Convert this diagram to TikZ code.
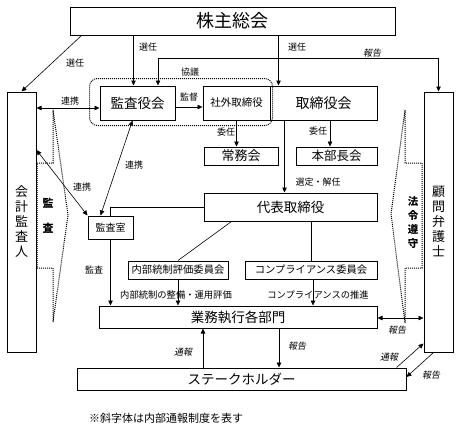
\documentclass[tikz,border=0pt]{standalone}
\usepackage{fontspec}
\setmainfont[AutoFakeSlant=0.2]{Noto Sans CJK JP}
\usetikzlibrary{arrows.meta}

\newcommand\jfs[1]{\fontsize{#1}{#1}\selectfont}

\tikzset{
  box/.style={draw, line width=1pt, inner sep=0pt, align=center},
  conn/.style={line width=0.6pt},
  arr/.style={conn, -{Triangle[length=5pt,width=4.5pt]}},
  biarr/.style={conn, {Triangle[length=5pt,width=4.5pt]}-{Triangle[length=5pt,width=4.5pt]}},
  lbl/.style={font=\jfs{9}, inner sep=0pt},
  ilbl/.style={font=\jfs{9}\itshape, inner sep=0pt},
  dotline/.style={densely dotted, line width=1pt},
}

\begin{document}
\begin{tikzpicture}[x=1pt, y=-1pt]
  \useasboundingbox (0,0) rectangle (460,431);

	% Boxes
  \node[box, minimum width=325pt, minimum height=28pt, font=\jfs{18}] (soukai) at (232.5,21) {株主総会};
  \node[box, minimum width=75pt, minimum height=34pt, font=\jfs{13.5}] (kansayaku) at (137.5,103) {監査役会};
  \node[box, minimum width=67pt, minimum height=34pt, font=\jfs{10.5}] (shagai) at (236.5,103) {社外取締役};
  \node[box, minimum width=107pt, minimum height=34pt, font=\jfs{14}] (torishimari) at (323.5,103) {取締役会};
  \node[box, minimum width=74pt, minimum height=18pt, font=\jfs{13}] (jomu) at (241,156) {常務会};
  \node[box, minimum width=81pt, minimum height=18pt, font=\jfs{12.5}] (honbu) at (336.5,156) {本部長会};
  \node[box, minimum width=173pt, minimum height=28pt, font=\jfs{13.5}] (daihyo) at (290.5,207) {代表取締役};
  \node[box, minimum width=45pt, minimum height=23pt, font=\jfs{10}] (kansashitsu) at (110.5,227.5) {監査室};
  \node[box, minimum width=100pt, minimum height=18pt, font=\jfs{10.3}] (naibu) at (178,270) {内部統制評価委員会};
  \node[box, minimum width=132pt, minimum height=18pt, font=\jfs{10.3}] (comp) at (311,270) {コンプライアンス委員会};
  \node[box, minimum width=278pt, minimum height=22pt, font=\jfs{13.5}] (gyomu) at (238,317) {業務執行各部門};
  \node[box, minimum width=329pt, minimum height=22pt, font=\jfs{13.5}] (stake) at (241.5,379) {ステークホルダー};
  \node[box, minimum width=29pt, minimum height=260pt, font={\fontsize{13}{15}\selectfont}] (kaikei) at (21.5,222) {会\\計\\監\\査\\人};
  \node[box, minimum width=29pt, minimum height=260pt, font={\fontsize{13}{15}\selectfont}] (bengo) at (438.5,222) {顧\\問\\弁\\護\\士};

	% Dotted group and brackets
  \draw[dotline, rounded corners=8pt] ([xshift=-10pt,yshift=7pt]kansayaku.north west) rectangle ([xshift=2pt,yshift=-5pt]shagai.south east);
  \draw[dotline] (53,110) -- (53,163) -- (37,163) -- (37,268) -- (53,268) -- (53,322) -- (68,215) -- cycle;
  \node[font={\bfseries\fontsize{11}{25}\selectfont}, align=center] (kansa) at (48,215.5) {監\\査};
  \draw[dotline] (405,110) -- (405,163) -- (422,163) -- (422,268) -- (405,268) -- (405,323) -- (391,214) -- cycle;
  \node[font={\bfseries\fontsize{10.5}{13.7}\selectfont}, align=center] (horei) at (413,222.5) {法\\令\\遵\\守};

	% Election
  \draw[arr] ([xshift=12pt]soukai.south west) -- (kaikei.north);
  \node[lbl] (senin1) at (75,63) {選任};
  \draw[arr] ([xshift=-4pt]kansayaku.north |- soukai.south) -- ([xshift=-4pt]kansayaku.north);
  \node[lbl] (senin2) at (148,47) {選任};
  \draw[arr] ([xshift=9pt]torishimari.north west |- soukai.south) -- ([xshift=9pt]torishimari.north west);
  \node[lbl] (senin3) at (297,47) {選任};

	% Consultation line
  \draw[biarr] ([xshift=20.5pt]kansayaku.north) -- ++(0,-27) -| (bengo.north);
  \node[lbl] (kyogi) at (190,72) {協議};
  \node[ilbl] (hokoku1) at (372,53) {報告};

	% Cooperation
  \draw[biarr] ([yshift=-5pt]kansayaku.west) -- ([yshift=-5pt]kansayaku.west -| kaikei.east);
  \node[lbl] (renkei1) at (70,101) {連携};
  \draw[biarr] ([xshift=-5pt]kansayaku.south) -- ([xshift=-10pt]kansashitsu.north);
  \node[lbl] (renkei2) at (134,165) {連携};
  \draw[biarr] ([yshift=72pt]kaikei.east) -- (kansashitsu.north west);
  \node[lbl] (renkei3) at (82,187) {連携};

	% Board
  \draw[arr] ([yshift=-4pt]kansayaku.east) -- ([yshift=-4pt]shagai.west);
  \node[lbl] (kantoku) at (189,97) {監督};
  \draw[arr] (shagai.south) -- (jomu.north -| shagai.south);
  \node[lbl] (inin1) at (226,132) {委任};
  \draw[arr] ([xshift=-6.5pt]honbu.north |- torishimari.south) -- ([xshift=-6.5pt]honbu.north);
  \node[lbl] (inin2) at (318,131) {委任};
  \draw[arr] ([xshift=15pt]torishimari.south west) -- ([xshift=15pt]torishimari.south west |- daihyo.north);
  \node[lbl] (sentei) at (318,182) {選定・解任};

	% Representative director
  \draw[conn] (daihyo.west) -| (kansashitsu.north);
  \draw[conn] ([xshift=28pt]daihyo.south west) -- (naibu.north);
  \draw[conn] (comp.north |- daihyo.south) -- (comp.north);

	% To departments
  \draw[arr] (kansashitsu.south) -- (kansashitsu.south |- gyomu.north);
  \node[lbl] (kansa2) at (94,270) {監査};
  \draw[arr] (naibu.south) -- (naibu.south |- gyomu.north);
  \node[lbl, font=\jfs{9.3}] (seibi) at (176,295) {内部統制の整備・運用評価};
  \draw[arr] ([xshift=2pt]comp.south) -- ([xshift=2pt]comp.south |- gyomu.north);
  \node[lbl, font=\jfs{9.3}] (suishin) at (318,295) {コンプライアンスの推進};

	% Reporting
  \draw[biarr] ([yshift=-1pt]gyomu.east) -- ([yshift=-1pt]gyomu.east -| bengo.west);
  \node[ilbl] (hokoku2) at (397,330) {報告};
  \draw[arr] ([xshift=-38.5pt]stake.north) -- ([xshift=-38.5pt]stake.north |- gyomu.south);
  \node[ilbl] (tsuho1) at (183,352) {通報};
  \draw[arr] ([xshift=41pt]gyomu.south) -- ([xshift=41pt]gyomu.south |- stake.north);
  \node[ilbl] (hokoku3) at (297,346) {報告};
  \draw[arr] ([xshift=-10pt]stake.north east) -- ([yshift=9pt]bengo.south west);
  \node[ilbl] (tsuho2) at (389,357) {通報};
  \draw[arr] ([xshift=-5pt]bengo.south) -- ([yshift=2pt]stake.east);
  \node[ilbl] (hokoku4) at (431,375) {報告};

	% Note
  \node[font=\jfs{11}] (note) at (166,418) {※斜字体は内部通報制度を表す};

\end{tikzpicture}
\end{document}
